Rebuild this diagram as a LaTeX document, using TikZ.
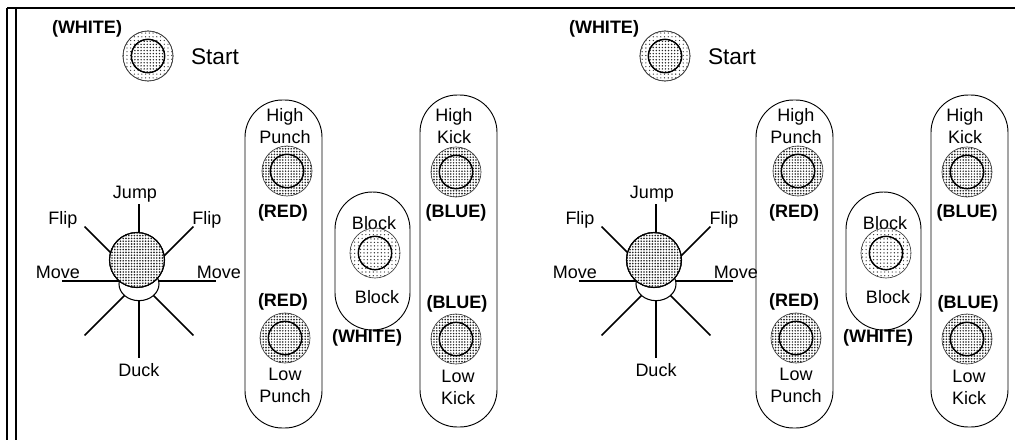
\documentclass[tikz,border=0pt]{standalone}
\usepackage{fontspec}
\setmainfont{Liberation Sans}
\usetikzlibrary{shapes.geometric,patterns.meta}
\tikzset{
  frame/.style={line width=1.1pt},
  lbl/.style={font=\fontsize{13.5}{16.5}\selectfont, inner sep=0pt, align=center},
  blbl/.style={font=\fontsize{13.5}{16.5}\selectfont\bfseries, inner sep=0pt},
  startlbl/.style={font=\fontsize{17}{20}\selectfont, inner sep=0pt},
  capsule/.style={draw, line width=0.7pt, rectangle, rounded corners=28pt, inner sep=0pt},
  btnout/.style={circle, draw=black!75, line width=0.5pt, minimum size=37.5pt, inner sep=0pt},
  btnin/.style={circle, draw, line width=0.9pt, minimum size=25pt, inner sep=0pt},
  dense/.style={pattern={Dots[distance=2.1pt, radius=0.7pt]}, pattern color=black!85},
  densein/.style={pattern={Dots[distance=2.1pt, radius=0.62pt]}, pattern color=black!85},
  light/.style={pattern={Dots[distance=2.8pt, radius=0.5pt]}, pattern color=black!80},
  lightin/.style={pattern={Dots[distance=2.6pt, radius=0.55pt]}, pattern color=black!80},
  startin/.style={pattern={Dots[distance=2.3pt, radius=0.6pt]}, pattern color=black!85},
  spoke/.style={line width=1.1pt},
  ball/.style={circle, draw, line width=0.8pt, fill=white, minimum size=41.25pt, inner sep=0pt},
  ballfill/.style={pattern={Dots[distance=2.1pt, radius=0.68pt]}, pattern color=black!85},
  jbase/.style={ellipse, draw, line width=0.8pt, fill=white, minimum width=30pt, minimum height=25pt, inner sep=0pt}
}
\begin{document}
\begin{tikzpicture}[x=0.75pt,y=-0.75pt]
\useasboundingbox (0,0) rectangle (1015,440);
% frame lines
\coordinate (ftl) at (16,8);
\coordinate (ftr) at (1015,8);
\coordinate (fo1) at (7,8);
\coordinate (fo2) at (7,440);
\coordinate (fi2) at (16,440);
\draw[frame] (fo1) -- (ftr);
\draw[frame] (fo1) -- (fo2);
\draw[frame] (ftl) -- (fi2);

\foreach \p/\a/\b in {L/0/0,R/517/511}{
  \begin{scope}[shift={(\a,0)}]
    % start button
    \node[blbl] (\p-sw) at (87,29) {(WHITE)};
    \node[btnout, fill=white] (\p-stbg) at (148,56) {};
    \node[btnout, light] (\p-st) at (148,56) {};
    \node[btnin, fill=white] (\p-stibg) at (148,56) {};
    \node[btnin, startin] (\p-sti) at (148,56) {};
    \node[startlbl] (\p-stl) at (215,57) {Start};
    % joystick
    \coordinate (\p-piv) at (139,281);
    \foreach \ang in {0,45,...,315}{
      \draw[spoke] (\p-piv) -- ++(\ang:77);
    }
    \node[jbase] (\p-base) at (139,284) {};
    \node[ball] (\p-ballbg) at (137,260) {};
    \node[ball, ballfill] (\p-ball) at (137,260) {};
    \node[lbl] (\p-jump) at (135,194) {Jump};
    \node[lbl] (\p-fl) at (63,220) {Flip};
    \node[lbl] (\p-fr) at (207,220) {Flip};
    \node[lbl] (\p-ml) at (58,272) {Move};
    \node[lbl] (\p-mr) at (219,272) {Move};
    \node[lbl] (\p-duck) at (139,370) {Duck};
  \end{scope}
  \begin{scope}[shift={(\b,0)}]
    % punch capsule
    \node[capsule, minimum width=57.75pt, minimum height=246pt] (\p-hpc) at (283.5,264) {};
    \node[lbl] (\p-hpt) at (285,126) {High\\Punch};
    \node[btnout, dense] (\p-hp) at (287,171) {};
    \node[btnin, fill=white] (\p-hpib) at (287,171) {};
    \node[btnin, densein] (\p-hpi) at (287,171) {};
    \node[blbl] (\p-hpr) at (283,213) {(RED)};
    \node[blbl] (\p-lpr) at (283,302) {(RED)};
    \node[btnout, dense] (\p-lp) at (285,338) {};
    \node[btnin, fill=white] (\p-lpib) at (285,338) {};
    \node[btnin, densein] (\p-lpi) at (285,338) {};
    \node[lbl] (\p-lpt) at (285,385) {Low\\Punch};
    % block capsule
    \node[capsule, minimum width=56.25pt, minimum height=103.5pt] (\p-blc) at (372.5,261) {};
    \node[lbl] (\p-blt) at (374,223) {Block};
    \node[btnout, light] (\p-bl) at (375,253) {};
    \node[btnin, fill=white] (\p-blib) at (375,253) {};
    \node[btnin, lightin] (\p-bli) at (375,253) {};
    \node[lbl] (\p-blb) at (377,297) {Block};
    \node[blbl] (\p-blw) at (367,338) {(WHITE)};
    % kick capsule
    \node[capsule, minimum width=57.75pt, minimum height=249pt] (\p-hkc) at (458.5,261) {};
    \node[lbl] (\p-hkt) at (454,126) {High\\Kick};
    \node[btnout, dense] (\p-hk) at (456,172) {};
    \node[btnin, fill=white] (\p-hkib) at (456,172) {};
    \node[btnin, densein] (\p-hki) at (456,172) {};
    \node[blbl] (\p-hkb) at (456,213) {(BLUE)};
    \node[blbl] (\p-lkb) at (457,304) {(BLUE)};
    \node[btnout, dense] (\p-lk) at (456,339) {};
    \node[btnin, fill=white] (\p-lkib) at (456,339) {};
    \node[btnin, densein] (\p-lki) at (456,339) {};
    \node[lbl] (\p-lkt) at (458,387) {Low\\Kick};
  \end{scope}
}
\end{tikzpicture}
\end{document}
